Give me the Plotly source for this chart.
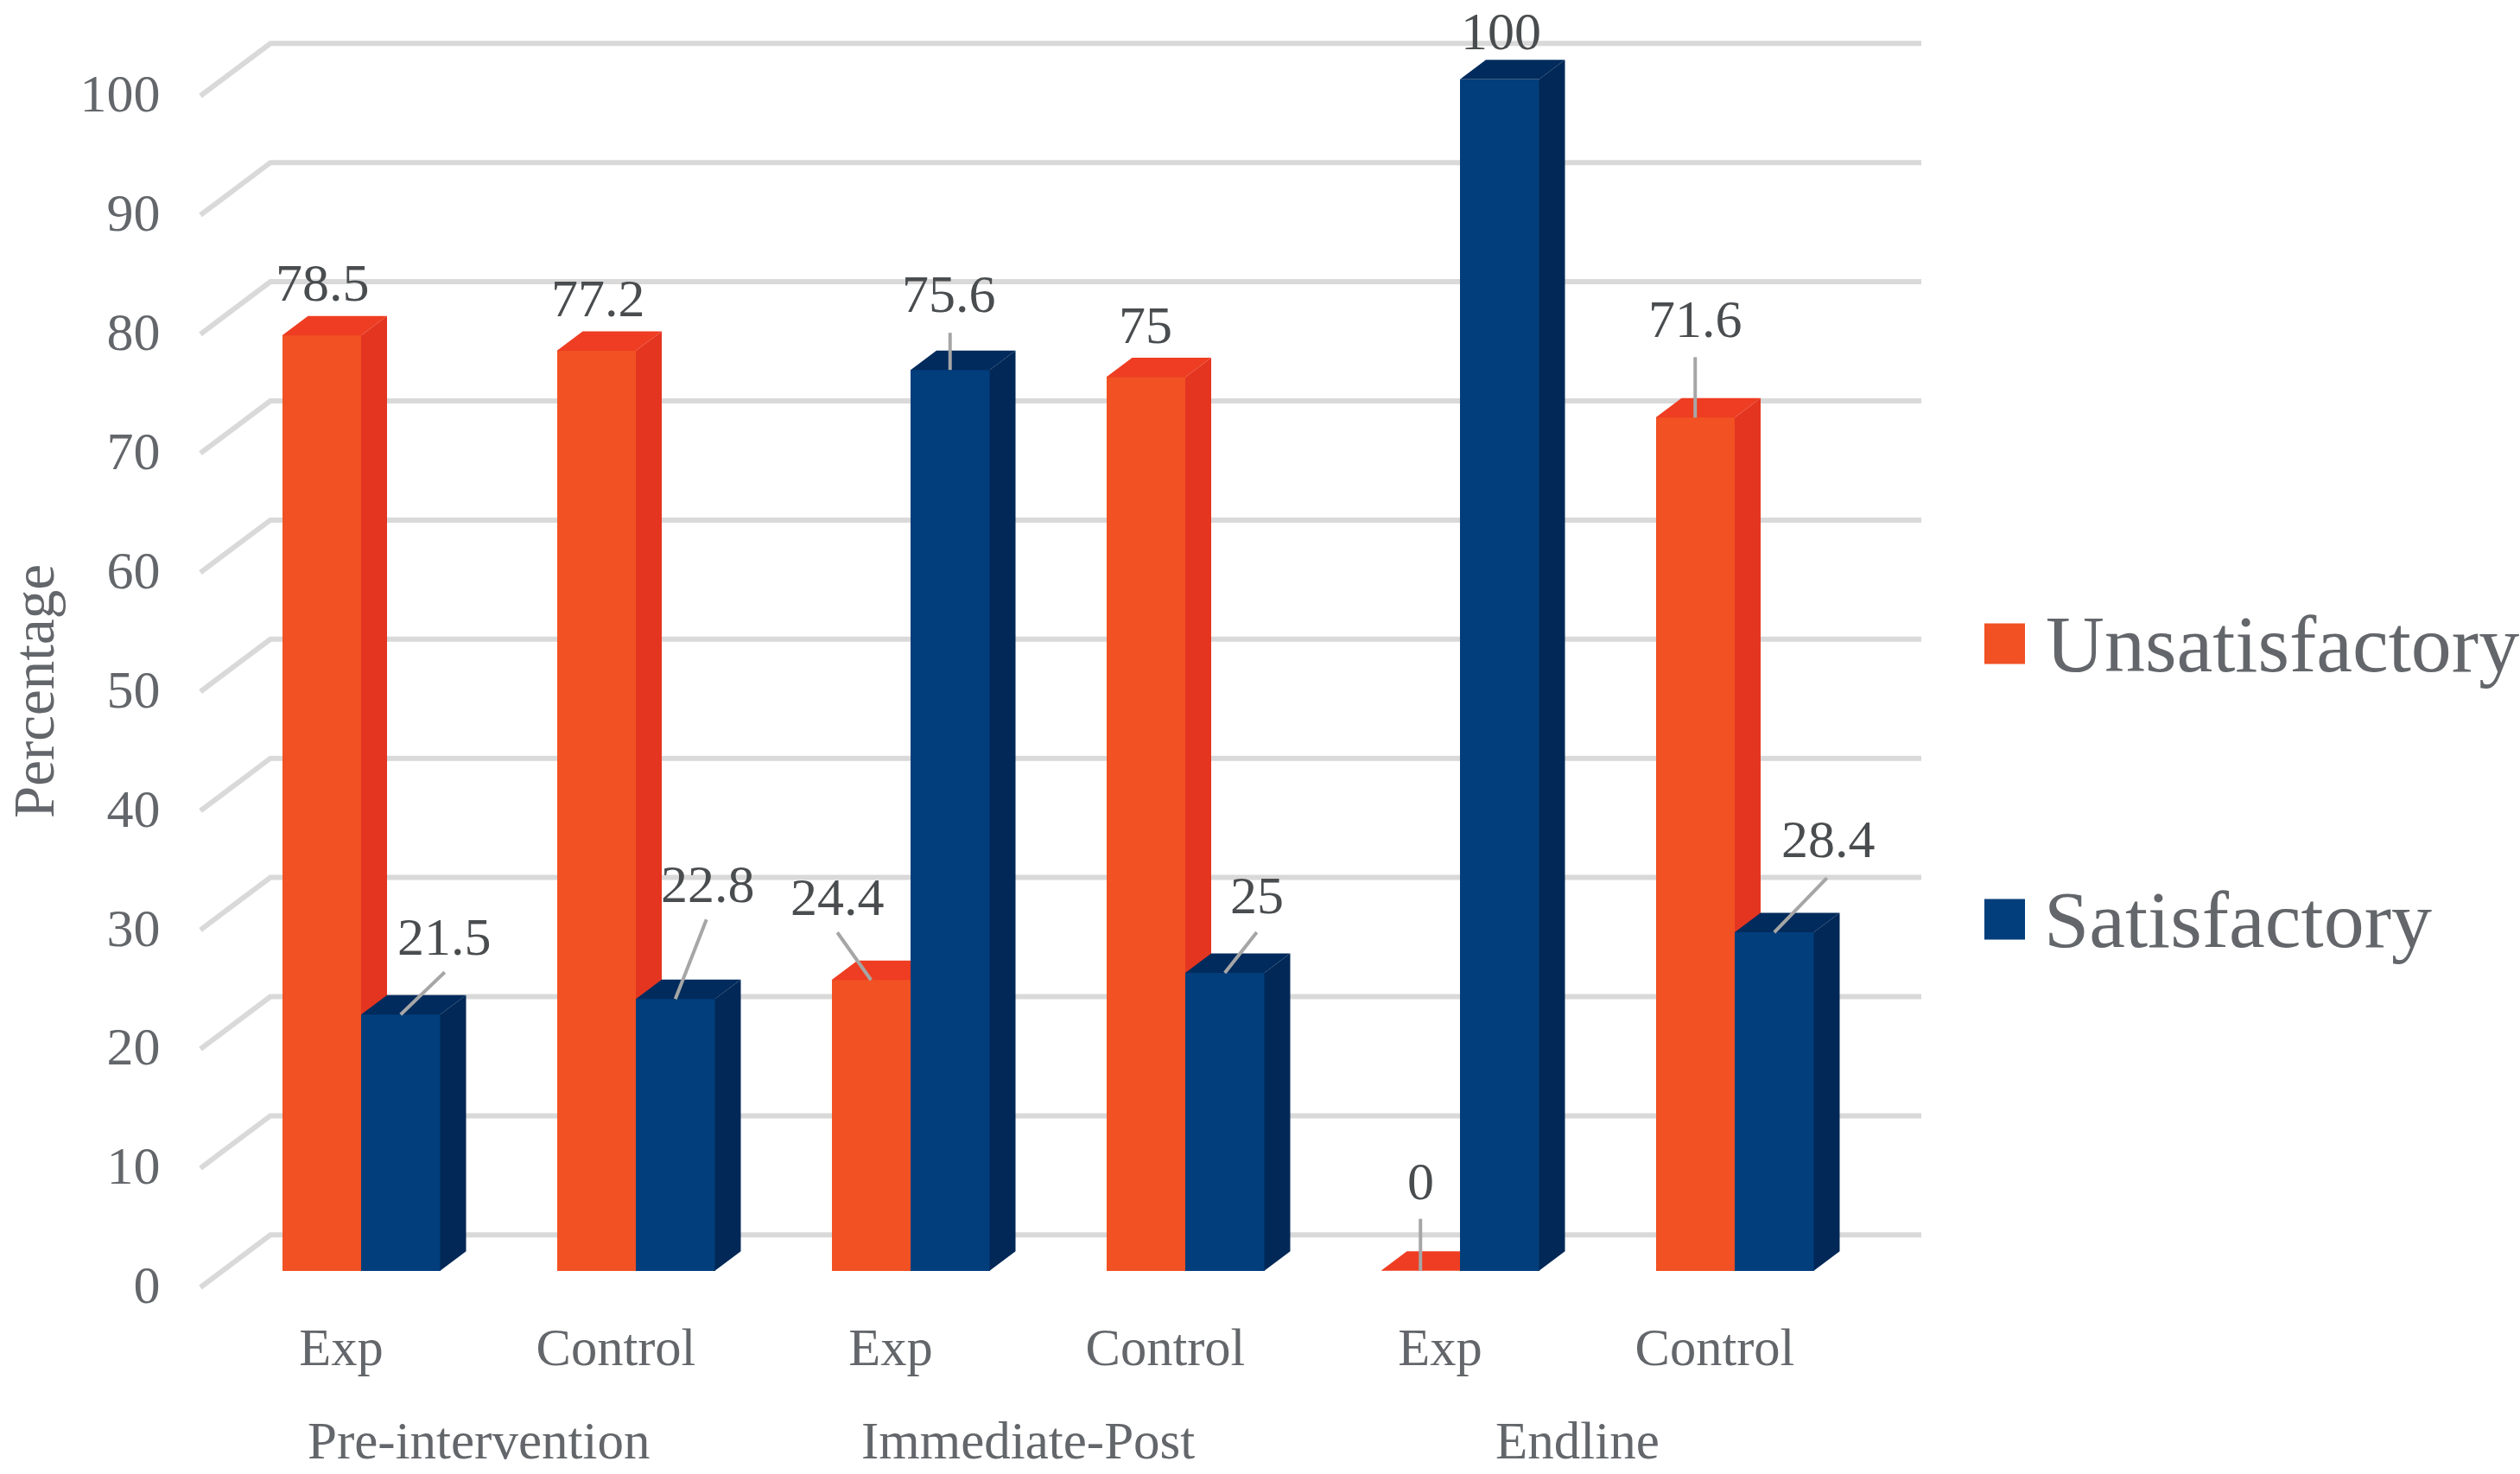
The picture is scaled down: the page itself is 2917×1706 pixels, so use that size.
import plotly.graph_objects as go

# ---------- data ----------
groups = ["Pre-intervention", "Immediate-Post", "Endline"]
arms = ["Exp", "Control", "Exp", "Control", "Exp", "Control"]
unsatisfactory = [78.5, 77.2, 24.4, 75, 0, 71.6]
satisfactory = [21.5, 22.8, 75.6, 25, 100, 28.4]
y_ticks = [0, 10, 20, 30, 40, 50, 60, 70, 80, 90, 100]

# ---------- label placement, pixels relative to the top of each bar ----------
red_label_off = [(1, -61), (2, -61), (-39, -96), (0, -60), (0, -104), (0, -114)]
blue_label_off = [(51, -90), (38, -133), (-1, -88), (37, -90), (2, -56), (63, -108)]
red_leader_off = [None, None, (-39, -55), None, (0, -60), (0, -70)]
blue_leader_off = [(51, -49), (36, -92), (0, -43), (37, -47), None, (61, -63)]

# ---------- page geometry ----------
W, H = 2917, 1706
L, T, R, B = 203, 0, W, 1500
PX_X = 318.0              # pixels per category
PX_Y = 13.79              # pixels per percent
ZERO_X = 418.0            # pixel of first category centre
ZERO_Y = 1470.7           # pixel of value 0 at the bar front
BAR_W = 91.5 / PX_X
DX, DY = 30 / PX_X, 22.5 / PX_Y      # bar depth
FRONT_Y = -19.3 / PX_Y               # axis front plane vs. bar front plane
WALL_Y = 41.4 / PX_Y                 # back wall vs. bar front plane
WALL_X0, WALL_X1, WALL_X2 = [(p - ZERO_X) / PX_X for p in (232, 313, 2224)]
LABEL_SHIFT = -23 / PX_X             # category labels sit left of the bars
TICK_NUDGE = 3.5 / PX_Y              # value labels sit a little above the grid ends

x_range = [(L - ZERO_X) / PX_X, (R - ZERO_X) / PX_X]
y_range = [(ZERO_Y - B) / PX_Y, (ZERO_Y - T) / PX_Y]

RED, RED_SIDE, RED_TOP = "#F15123", "#E43521", "#EE3D22"
BLUE, BLUE_SIDE, BLUE_TOP = "#023E7C", "#012856", "#012B5C"
GRID = "#D9D9D9"
TICK = "#63666A"
LABEL = "#4A4D4F"
LEADER = "#A6A6A6"
FONT = "Liberation Serif"


def faces(values, left_of):
    sx, sy, tx, ty = [], [], [], []
    for i, v in enumerate(values):
        a = left_of(i)
        b = a + BAR_W
        sx += [b, b + DX, b + DX, b, b, None]
        sy += [0, DY, v + DY, v, 0, None]
        tx += [a, a + DX, b + DX, b, a, None]
        ty += [v, v + DY, v + DY, v, v, None]
    return sx, sy, tx, ty


def poly(x, y, color, name, xa, ya):
    return go.Scatter(x=x, y=y, mode="lines", fill="toself", fillcolor=color,
                      line=dict(width=0, color=color), hoverinfo="skip",
                      showlegend=False, name=name, xaxis=xa, yaxis=ya)


idx = list(range(len(arms)))
fig = go.Figure()

# Unsatisfactory bars on the lower subplot
fig.add_trace(go.Bar(x=idx, y=unsatisfactory, width=BAR_W, offset=-BAR_W, name="Unsatisfactory",
                     marker=dict(color=RED, line=dict(width=0)), showlegend=False))
sx, sy, tx, ty = faces(unsatisfactory, lambda i: i - BAR_W)
fig.add_trace(poly(sx, sy, RED_SIDE, "Unsatisfactory side", "x", "y"))
fig.add_trace(poly(tx, ty, RED_TOP, "Unsatisfactory top", "x", "y"))

# Satisfactory bars on an overlaid subplot, so they cover the red depth faces
fig.add_trace(go.Bar(x=idx, y=satisfactory, width=BAR_W, offset=0, name="Satisfactory",
                     marker=dict(color=BLUE, line=dict(width=0)), showlegend=False,
                     xaxis="x2", yaxis="y2"))
sx, sy, tx, ty = faces(satisfactory, lambda i: i)
fig.add_trace(poly(sx, sy, BLUE_SIDE, "Satisfactory side", "x2", "y2"))
fig.add_trace(poly(tx, ty, BLUE_TOP, "Satisfactory top", "x2", "y2"))

# Leader lines and data labels
lx, ly = [], []
annotations = []
for values, centre, lab_off, lead_off in (
    (unsatisfactory, -BAR_W / 2, red_label_off, red_leader_off),
    (satisfactory, BAR_W / 2, blue_label_off, blue_leader_off),
):
    for i, v in enumerate(values):
        if lead_off[i]:
            dx, dy = lead_off[i]
            lx += [i + centre, i + centre + dx / PX_X, None]
            ly += [v, v - dy / PX_Y, None]
        ox, oy = lab_off[i]
        annotations.append(dict(x=i + centre, y=v, xref="x", yref="y", text=f"{v:g}", showarrow=False,
                                xshift=ox, yshift=-oy, xanchor="center", yanchor="middle",
                                font=dict(family=FONT, size=62, color=LABEL)))
fig.add_trace(go.Scatter(x=lx, y=ly, mode="lines", line=dict(color=LEADER, width=4),
                         hoverinfo="skip", showlegend=False, name="Leaders", xaxis="x2", yaxis="y2"))

# Back wall grid lines, behind all traces
shapes = []
for t in y_ticks:
    y0 = t + FRONT_Y
    y1 = t + WALL_Y
    shapes.append(dict(type="path", xref="x", yref="y", layer="below",
                       path=f"M{WALL_X0},{y0} L{WALL_X1},{y1} L{WALL_X2},{y1}",
                       line=dict(color=GRID, width=6)))


def px(xp):
    return (xp - L) / (R - L)


def py(yp):
    return (B - yp) / (B - T)


# Group labels
for g, name in enumerate(groups):
    annotations.append(dict(x=2 * g + 0.5 + LABEL_SHIFT, y=py(1667), xref="x", yref="paper",
                            text=name, showarrow=False, xanchor="center", yanchor="middle",
                            font=dict(family=FONT, size=61, color=TICK)))

# Axis title
annotations.append(dict(x=px(39), y=py(800), xref="paper", yref="paper", text="Percentage", textangle=-90,
                        showarrow=False, xanchor="center", yanchor="middle",
                        font=dict(family=FONT, size=67, color=TICK)))

# Legend
for name, color, yc, tx0 in (("Unsatisfactory", RED, 745, 2366), ("Satisfactory", BLUE, 1064, 2364)):
    shapes.append(dict(type="rect", xref="paper", yref="paper", x0=px(2297), x1=px(2344),
                       y0=py(yc + 23.5), y1=py(yc - 23.5), fillcolor=color, line=dict(width=0)))
    annotations.append(dict(x=px(tx0), y=py(yc), xref="paper", yref="paper", text=name, showarrow=False,
                            xanchor="left", yanchor="middle",
                            font=dict(family=FONT, size=94, color=TICK)))

fig.update_layout(
    width=W, height=H, autosize=False,
    margin=dict(l=L, r=W - R, t=T, b=H - B, pad=0),
    paper_bgcolor="white", plot_bgcolor="white",
    showlegend=False, bargap=0, shapes=shapes, annotations=annotations,
    font=dict(family=FONT, color=TICK),
    xaxis=dict(range=x_range, tickmode="array", tickvals=[i + LABEL_SHIFT for i in idx], ticktext=arms,
               showgrid=False, zeroline=False, showline=False, ticks="outside", ticklen=6,
               tickcolor="rgba(0,0,0,0)", tickfont=dict(family=FONT, size=60.5, color=TICK)),
    yaxis=dict(range=y_range, tickmode="array", tickvals=[t + FRONT_Y + TICK_NUDGE for t in y_ticks],
               ticktext=[str(t) for t in y_ticks], showgrid=False, zeroline=False, showline=False,
               ticks="outside", ticklen=4, tickcolor="rgba(0,0,0,0)",
               tickfont=dict(family=FONT, size=62, color=TICK)),
    xaxis2=dict(range=x_range, overlaying="x", visible=False),
    yaxis2=dict(range=y_range, overlaying="y", visible=False),
)

fig.write_html("out.html", config=dict(displayModeBar=False),
               post_script="document.body.style.margin='0';")
